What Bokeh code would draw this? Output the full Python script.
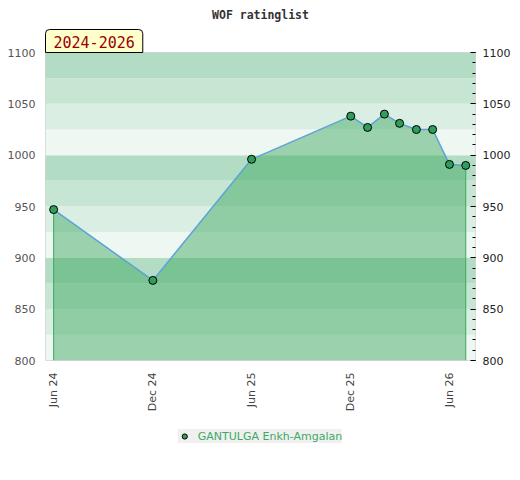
import math
import pandas as pd
from bokeh.plotting import figure
from bokeh.layouts import column
from bokeh.models import (Range1d, LinearAxis, SingleIntervalTicker, FixedTicker,
                          BoxAnnotation, Title, Legend, LegendItem, ColumnDataSource)
from bokeh.embed import file_html
from bokeh.resources import INLINE

title_text = "WOF ratinglist"
period_text = "2024-2026"
player = "GANTULGA Enkh-Amgalan"

dates = ["2024-06-01", "2024-12-01", "2025-06-01", "2025-12-01", "2026-01-01",
         "2026-02-01", "2026-03-01", "2026-04-01", "2026-05-01", "2026-06-01", "2026-07-01"]
ratings = [947, 878, 996, 1038, 1027, 1040, 1031, 1025, 1025, 991, 990]

tick_dates = ["2024-06-01", "2024-12-01", "2025-06-01", "2025-12-01", "2026-06-01"]
tick_labels = ["Jun 24", "Dec 24", "Jun 25", "Dec 25", "Jun 26"]

x_start, x_end = "2024-05-17", "2026-07-19"
y_min, y_max = 800, 1100
band_step = 25
band_colors = ["#eef7f2", "#dbeee3", "#c7e5d3", "#b3dcc4"]

MARKER_FILL = "#2f9e5a"

x = pd.to_datetime(dates)
src = ColumnDataSource(dict(x=x, y=ratings, base=[y_min] * len(ratings)))

p = figure(width=520, height=420, x_axis_type="datetime",
           x_range=Range1d(pd.Timestamp(x_start), pd.Timestamp(x_end)),
           y_range=Range1d(y_min, y_max),
           output_backend="svg", toolbar_location=None,
           title=title_text,
           min_border_left=45, min_border_right=45,
           min_border_top=51, min_border_bottom=60)
p.outline_line_color = "#d4d4d4"
p.xgrid.visible = False
p.ygrid.visible = False
p.background_fill_color = "white"

p.title.align = "center"
p.title.text_font = "DejaVu Sans Mono"
p.title.text_font_style = "bold"
p.title.text_font_size = "11.5px"
p.title.text_color = "#333333"
p.title.standoff = 11

# period box, adjacent to the frame top
p.add_layout(Title(text=period_text, align="left", offset=0, standoff=0,
                   text_font="DejaVu Sans Mono", text_font_size="15px",
                   text_font_style="normal", text_color="#990000",
                   background_fill_color="#ffffcc", border_line_color="black",
                   border_line_width=1,
                   padding=dict(left=8, right=8, top=6, bottom=5),
                   border_radius=dict(top_left=4, top_right=4, bottom_left=0, bottom_right=0)),
             "above")

for i, lo in enumerate(range(y_min, y_max, band_step)):
    p.add_layout(BoxAnnotation(bottom=lo, top=lo + band_step,
                               fill_color=band_colors[i % 4], fill_alpha=1.0,
                               line_color=None, level="underlay"))

p.varea(x="x", y1="base", y2="y", source=src, fill_color="#36a459", fill_alpha=0.45)
p.segment(x0=[x[0], x[-1]], y0=[y_min, y_min], x1=[x[0], x[-1]],
          y1=[ratings[0], ratings[-1]], line_color="#3aa85a", line_width=1)
p.line("x", "y", source=src, line_color="#5da2d8", line_width=1.5)
p.scatter("x", "y", source=src, size=8, fill_color=MARKER_FILL,
          line_color="black", line_width=1)

# left axis
la = p.yaxis[0]
la.ticker = SingleIntervalTicker(interval=50, num_minor_ticks=0)
la.axis_line_color = None
la.major_tick_in = 0
la.major_tick_out = 0
la.minor_tick_in = 0
la.minor_tick_out = 0
la.major_label_standoff = 10
la.major_label_text_font = "DejaVu Sans"
la.major_label_text_font_size = "11px"
la.major_label_text_color = "#555555"

# right axis
ra = LinearAxis(ticker=SingleIntervalTicker(interval=50, num_minor_ticks=5),
                axis_line_color=None, major_tick_in=5, major_tick_out=0,
                minor_tick_in=3, minor_tick_out=0,
                major_tick_line_color="black", minor_tick_line_color="black",
                major_label_standoff=7, major_label_text_font="DejaVu Sans",
                major_label_text_font_size="11px", major_label_text_color="#222222")
p.add_layout(ra, "right")

# x axis
xa = p.xaxis[0]
tick_ms = [float(pd.Timestamp(d).value // 10**6) for d in tick_dates]
xa.ticker = FixedTicker(ticks=tick_ms)
xa.major_label_overrides = {t: lab for t, lab in zip(tick_ms, tick_labels)}
xa.major_label_orientation = math.pi / 2
xa.axis_line_color = None
xa.major_tick_in = 0
xa.major_tick_out = 0
xa.minor_tick_in = 0
xa.minor_tick_out = 0
xa.major_label_standoff = 12
xa.major_label_text_font = "DejaVu Sans"
xa.major_label_text_font_size = "11px"
xa.major_label_text_color = "#444444"

# legend strip below the chart (a second, axis-less figure hosting the legend)
lp = figure(width=520, height=32, x_range=Range1d(0, 1), y_range=Range1d(0, 1),
            output_backend="svg", toolbar_location=None,
            x_axis_location=None, y_axis_location=None,
            min_border=0, outline_line_color=None)
lp.xgrid.visible = False
lp.ygrid.visible = False
lr = lp.scatter("x", "y", source=src, size=8, fill_color=MARKER_FILL,
                line_color="black", line_width=1)
legend = Legend(items=[LegendItem(label=player, renderers=[lr])],
                location="center", orientation="horizontal",
                padding=5, glyph_width=13, glyph_height=14, label_height=14,
                label_standoff=7, label_text_font="DejaVu Sans",
                label_text_font_size="11px", label_text_color="#3caa64",
                background_fill_color="#f0f0f0", background_fill_alpha=1.0,
                border_line_color=None, margin=0)
lp.add_layout(legend)

layout = column(p, lp, spacing=0)

open("out.html", "w").write(file_html(layout, INLINE))
